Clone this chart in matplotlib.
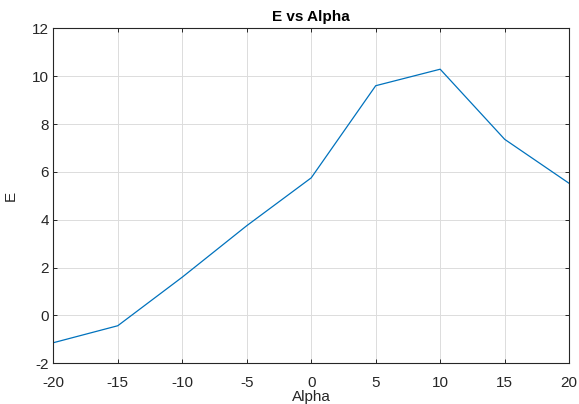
import matplotlib
matplotlib.use("Agg")
import matplotlib.pyplot as plt

alpha = [-20, -15, -10, -5, 0, 5, 10, 15, 20]
E = [-1.14, -0.43, 1.6, 3.75, 5.75, 9.6, 10.29, 7.36, 5.52]
xticks = [-20, -15, -10, -5, 0, 5, 10, 15, 20]
yticks = [-2, 0, 2, 4, 6, 8, 10, 12]

plt.rcParams['font.family'] = ['Liberation Sans', 'DejaVu Sans']
plt.rcParams['axes.unicode_minus'] = False

fig = plt.figure(figsize=(5.79, 4.04), dpi=100)
ax = fig.add_axes([0.092, 0.1007, 0.891, 0.8293])
ax.plot(alpha, E, color='#0072BD', lw=0.9)
ax.set_xlim(-20, 20)
ax.set_ylim(-2, 12)
ax.set_xticks(xticks)
ax.set_yticks(yticks)
ax.grid(True, color='#dcdcdc', lw=0.7)
ax.set_axisbelow(True)
ax.tick_params(direction='in', top=True, right=True, length=3, width=0.7,
               colors='#262626', labelsize=11, pad=3)
ax.tick_params(axis='x', labeltop=False, pad=9)
for s in ax.spines.values():
    s.set_color('#262626')
    s.set_linewidth(0.8)
ax.set_title('E vs Alpha', fontsize=11, fontweight='bold', color='#000000', pad=5)
ax.set_xlabel('Alpha', fontsize=11, color='#262626', labelpad=0)
ax.set_ylabel('E', fontsize=11, color='#262626', labelpad=10)
fig.savefig('out.png', dpi=100)
